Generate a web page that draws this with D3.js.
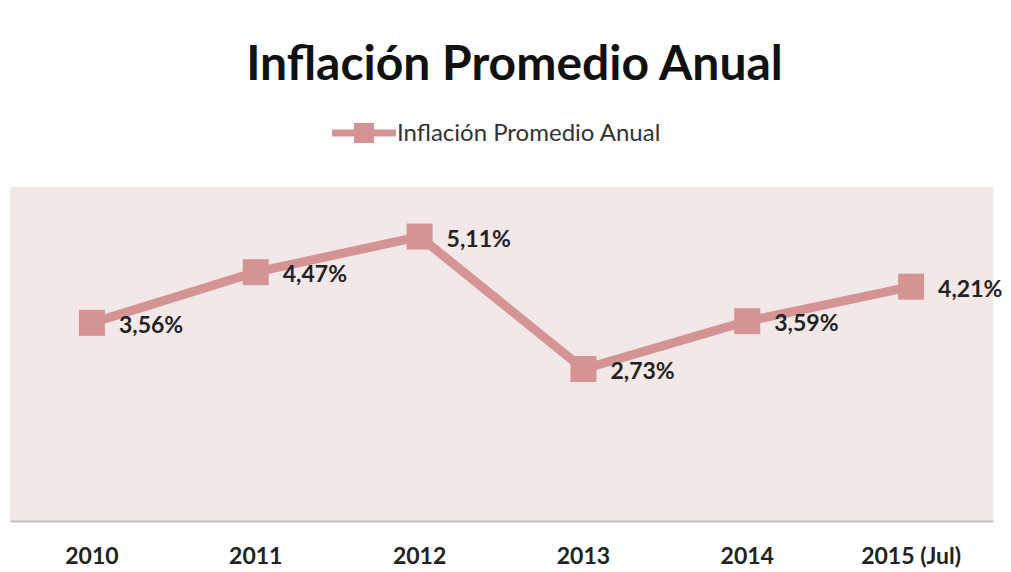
<!DOCTYPE html>
<html>
<head>
<meta charset="utf-8">
<script src="https://cdn.jsdelivr.net/npm/d3@7"></script>
<style>
  html, body { margin: 0; padding: 0; background: #ffffff; }
  svg { display: block; }
</style>
</head>
<body>
<svg id="chart" width="1011" height="572"></svg>
<script>
// Average annual inflation, by year
const years = ["2010", "2011", "2012", "2013", "2014", "2015 (Jul)"];
const inflation = [3.56, 4.47, 5.11, 2.73, 3.59, 4.21];
const seriesName = "Inflación Promedio Anual";
const chartTitle = "Inflación Promedio Anual";

const fmt = v => d3.format(".2f")(v).replace(".", ",") + "%";

const svg = d3.select("#chart");
const W = 1011, H = 572;
const plot = { left: 10, right: 993, top: 187, bottom: 521 };

const lineColor = "#d59494";
const font = "Lato, 'Open Sans', 'DejaVu Sans', sans-serif";

// plot background
svg.append("rect")
  .attr("x", plot.left).attr("y", plot.top)
  .attr("width", plot.right - plot.left).attr("height", plot.bottom - plot.top)
  .attr("fill", "#f3e8e8");

const x = d3.scaleBand().domain(years).range([plot.left, plot.right]);
const y = d3.scaleLinear().domain([0, 6]).range([plot.bottom, plot.top]);

// category axis
const xAxis = svg.append("g")
  .attr("transform", `translate(0,${plot.bottom})`)
  .call(d3.axisBottom(x).tickSize(0).tickPadding(27));
xAxis.select(".domain").attr("stroke", "#c4c0c0").attr("stroke-width", 2);
xAxis.selectAll("text")
  .attr("font-family", font).attr("font-weight", "bold")
  .attr("font-size", 23).attr("fill", "#222");

// title
svg.append("text")
  .attr("x", W / 2 + 9).attr("y", 80)
  .attr("text-anchor", "middle")
  .attr("font-family", font).attr("font-weight", "bold")
  .attr("font-size", 48).attr("fill", "#111")
  .text(chartTitle);

// legend
const lg = svg.append("g").attr("transform", "translate(332,133)");
lg.append("line").attr("x1", 0).attr("x2", 64).attr("y1", 0).attr("y2", 0)
  .attr("stroke", lineColor).attr("stroke-width", 7);
lg.append("rect").attr("x", 22).attr("y", -10).attr("width", 20).attr("height", 20)
  .attr("fill", lineColor);
lg.append("text").attr("x", 65).attr("y", 8)
  .attr("font-family", font).attr("font-size", 24).attr("fill", "#333")
  .text(seriesName);

const cx = (d, i) => x(years[i]) + x.bandwidth() / 2;

// series line
svg.append("path")
  .datum(inflation)
  .attr("fill", "none")
  .attr("stroke", lineColor)
  .attr("stroke-width", 9)
  .attr("stroke-linejoin", "miter")
  .attr("d", d3.line().x(cx).y(d => y(d)));

// square markers
const ms = 26;
svg.selectAll("rect.marker")
  .data(inflation)
  .join("rect")
  .attr("class", "marker")
  .attr("x", (d, i) => cx(d, i) - ms / 2)
  .attr("y", d => y(d) - ms / 2)
  .attr("width", ms).attr("height", ms)
  .attr("fill", lineColor);

// value labels
svg.selectAll("text.val")
  .data(inflation)
  .join("text")
  .attr("class", "val")
  .attr("x", (d, i) => cx(d, i) + 27)
  .attr("y", d => y(d) + 10)
  .attr("font-family", font).attr("font-weight", "bold")
  .attr("font-size", 23).attr("fill", "#222")
  .text(fmt);
</script>
</body>
</html>
